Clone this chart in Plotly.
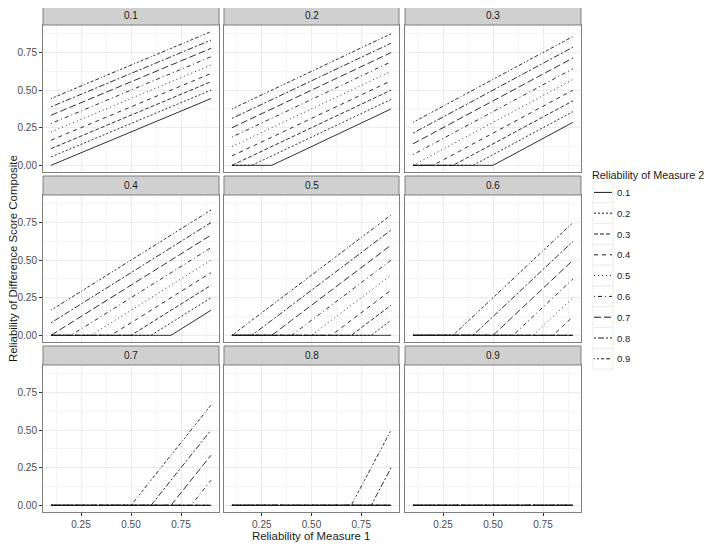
import plotly.graph_objects as go

# Reliability of Measure 1 (x) and Measure 2 (line type)
R1 = [0.1, 0.2, 0.3, 0.4, 0.5, 0.6, 0.7, 0.8, 0.9]
R2_LEVELS = ["0.1", "0.2", "0.3", "0.4", "0.5", "0.6", "0.7", "0.8", "0.9"]
FACETS = ["0.1", "0.2", "0.3", "0.4", "0.5", "0.6", "0.7", "0.8", "0.9"]

# composite reliability, one row per Measure 2 level, columns follow R1
REL_01 = [
    [0.000, 0.056, 0.111, 0.167, 0.222, 0.278, 0.333, 0.389, 0.444],
    [0.056, 0.111, 0.167, 0.222, 0.278, 0.333, 0.389, 0.444, 0.500],
    [0.111, 0.167, 0.222, 0.278, 0.333, 0.389, 0.444, 0.500, 0.556],
    [0.167, 0.222, 0.278, 0.333, 0.389, 0.444, 0.500, 0.556, 0.611],
    [0.222, 0.278, 0.333, 0.389, 0.444, 0.500, 0.556, 0.611, 0.667],
    [0.278, 0.333, 0.389, 0.444, 0.500, 0.556, 0.611, 0.667, 0.722],
    [0.333, 0.389, 0.444, 0.500, 0.556, 0.611, 0.667, 0.722, 0.778],
    [0.389, 0.444, 0.500, 0.556, 0.611, 0.667, 0.722, 0.778, 0.833],
    [0.444, 0.500, 0.556, 0.611, 0.667, 0.722, 0.778, 0.833, 0.889],
]
REL_02 = [
    [0.000, 0.000, 0.000, 0.062, 0.125, 0.188, 0.250, 0.312, 0.375],
    [0.000, 0.000, 0.062, 0.125, 0.188, 0.250, 0.312, 0.375, 0.438],
    [0.000, 0.062, 0.125, 0.188, 0.250, 0.312, 0.375, 0.438, 0.500],
    [0.062, 0.125, 0.188, 0.250, 0.312, 0.375, 0.438, 0.500, 0.562],
    [0.125, 0.188, 0.250, 0.312, 0.375, 0.438, 0.500, 0.562, 0.625],
    [0.188, 0.250, 0.312, 0.375, 0.438, 0.500, 0.562, 0.625, 0.688],
    [0.250, 0.312, 0.375, 0.438, 0.500, 0.562, 0.625, 0.688, 0.750],
    [0.312, 0.375, 0.438, 0.500, 0.562, 0.625, 0.688, 0.750, 0.812],
    [0.375, 0.438, 0.500, 0.562, 0.625, 0.688, 0.750, 0.812, 0.875],
]
REL_03 = [
    [0.000, 0.000, 0.000, 0.000, 0.000, 0.071, 0.143, 0.214, 0.286],
    [0.000, 0.000, 0.000, 0.000, 0.071, 0.143, 0.214, 0.286, 0.357],
    [0.000, 0.000, 0.000, 0.071, 0.143, 0.214, 0.286, 0.357, 0.429],
    [0.000, 0.000, 0.071, 0.143, 0.214, 0.286, 0.357, 0.429, 0.500],
    [0.000, 0.071, 0.143, 0.214, 0.286, 0.357, 0.429, 0.500, 0.571],
    [0.071, 0.143, 0.214, 0.286, 0.357, 0.429, 0.500, 0.571, 0.643],
    [0.143, 0.214, 0.286, 0.357, 0.429, 0.500, 0.571, 0.643, 0.714],
    [0.214, 0.286, 0.357, 0.429, 0.500, 0.571, 0.643, 0.714, 0.786],
    [0.286, 0.357, 0.429, 0.500, 0.571, 0.643, 0.714, 0.786, 0.857],
]
REL_04 = [
    [0.000, 0.000, 0.000, 0.000, 0.000, 0.000, 0.000, 0.083, 0.167],
    [0.000, 0.000, 0.000, 0.000, 0.000, 0.000, 0.083, 0.167, 0.250],
    [0.000, 0.000, 0.000, 0.000, 0.000, 0.083, 0.167, 0.250, 0.333],
    [0.000, 0.000, 0.000, 0.000, 0.083, 0.167, 0.250, 0.333, 0.417],
    [0.000, 0.000, 0.000, 0.083, 0.167, 0.250, 0.333, 0.417, 0.500],
    [0.000, 0.000, 0.083, 0.167, 0.250, 0.333, 0.417, 0.500, 0.583],
    [0.000, 0.083, 0.167, 0.250, 0.333, 0.417, 0.500, 0.583, 0.667],
    [0.083, 0.167, 0.250, 0.333, 0.417, 0.500, 0.583, 0.667, 0.750],
    [0.167, 0.250, 0.333, 0.417, 0.500, 0.583, 0.667, 0.750, 0.833],
]
REL_05 = [
    [0.0, 0.0, 0.0, 0.0, 0.0, 0.0, 0.0, 0.0, 0.0],
    [0.0, 0.0, 0.0, 0.0, 0.0, 0.0, 0.0, 0.0, 0.1],
    [0.0, 0.0, 0.0, 0.0, 0.0, 0.0, 0.0, 0.1, 0.2],
    [0.0, 0.0, 0.0, 0.0, 0.0, 0.0, 0.1, 0.2, 0.3],
    [0.0, 0.0, 0.0, 0.0, 0.0, 0.1, 0.2, 0.3, 0.4],
    [0.0, 0.0, 0.0, 0.0, 0.1, 0.2, 0.3, 0.4, 0.5],
    [0.0, 0.0, 0.0, 0.1, 0.2, 0.3, 0.4, 0.5, 0.6],
    [0.0, 0.0, 0.1, 0.2, 0.3, 0.4, 0.5, 0.6, 0.7],
    [0.0, 0.1, 0.2, 0.3, 0.4, 0.5, 0.6, 0.7, 0.8],
]
REL_06 = [
    [0.000, 0.000, 0.000, 0.000, 0.000, 0.000, 0.000, 0.000, 0.000],
    [0.000, 0.000, 0.000, 0.000, 0.000, 0.000, 0.000, 0.000, 0.000],
    [0.000, 0.000, 0.000, 0.000, 0.000, 0.000, 0.000, 0.000, 0.000],
    [0.000, 0.000, 0.000, 0.000, 0.000, 0.000, 0.000, 0.000, 0.125],
    [0.000, 0.000, 0.000, 0.000, 0.000, 0.000, 0.000, 0.125, 0.250],
    [0.000, 0.000, 0.000, 0.000, 0.000, 0.000, 0.125, 0.250, 0.375],
    [0.000, 0.000, 0.000, 0.000, 0.000, 0.125, 0.250, 0.375, 0.500],
    [0.000, 0.000, 0.000, 0.000, 0.125, 0.250, 0.375, 0.500, 0.625],
    [0.000, 0.000, 0.000, 0.125, 0.250, 0.375, 0.500, 0.625, 0.750],
]
REL_07 = [
    [0.000, 0.000, 0.000, 0.000, 0.000, 0.000, 0.000, 0.000, 0.000],
    [0.000, 0.000, 0.000, 0.000, 0.000, 0.000, 0.000, 0.000, 0.000],
    [0.000, 0.000, 0.000, 0.000, 0.000, 0.000, 0.000, 0.000, 0.000],
    [0.000, 0.000, 0.000, 0.000, 0.000, 0.000, 0.000, 0.000, 0.000],
    [0.000, 0.000, 0.000, 0.000, 0.000, 0.000, 0.000, 0.000, 0.000],
    [0.000, 0.000, 0.000, 0.000, 0.000, 0.000, 0.000, 0.000, 0.167],
    [0.000, 0.000, 0.000, 0.000, 0.000, 0.000, 0.000, 0.167, 0.333],
    [0.000, 0.000, 0.000, 0.000, 0.000, 0.000, 0.167, 0.333, 0.500],
    [0.000, 0.000, 0.000, 0.000, 0.000, 0.167, 0.333, 0.500, 0.667],
]
REL_08 = [
    [0.00, 0.00, 0.00, 0.00, 0.00, 0.00, 0.00, 0.00, 0.00],
    [0.00, 0.00, 0.00, 0.00, 0.00, 0.00, 0.00, 0.00, 0.00],
    [0.00, 0.00, 0.00, 0.00, 0.00, 0.00, 0.00, 0.00, 0.00],
    [0.00, 0.00, 0.00, 0.00, 0.00, 0.00, 0.00, 0.00, 0.00],
    [0.00, 0.00, 0.00, 0.00, 0.00, 0.00, 0.00, 0.00, 0.00],
    [0.00, 0.00, 0.00, 0.00, 0.00, 0.00, 0.00, 0.00, 0.00],
    [0.00, 0.00, 0.00, 0.00, 0.00, 0.00, 0.00, 0.00, 0.00],
    [0.00, 0.00, 0.00, 0.00, 0.00, 0.00, 0.00, 0.00, 0.25],
    [0.00, 0.00, 0.00, 0.00, 0.00, 0.00, 0.00, 0.25, 0.50],
]
REL_09 = [
    [0.0, 0.0, 0.0, 0.0, 0.0, 0.0, 0.0, 0.0, 0.0],
    [0.0, 0.0, 0.0, 0.0, 0.0, 0.0, 0.0, 0.0, 0.0],
    [0.0, 0.0, 0.0, 0.0, 0.0, 0.0, 0.0, 0.0, 0.0],
    [0.0, 0.0, 0.0, 0.0, 0.0, 0.0, 0.0, 0.0, 0.0],
    [0.0, 0.0, 0.0, 0.0, 0.0, 0.0, 0.0, 0.0, 0.0],
    [0.0, 0.0, 0.0, 0.0, 0.0, 0.0, 0.0, 0.0, 0.0],
    [0.0, 0.0, 0.0, 0.0, 0.0, 0.0, 0.0, 0.0, 0.0],
    [0.0, 0.0, 0.0, 0.0, 0.0, 0.0, 0.0, 0.0, 0.0],
    [0.0, 0.0, 0.0, 0.0, 0.0, 0.0, 0.0, 0.0, 0.0],
]
TABLES = [REL_01, REL_02, REL_03, REL_04, REL_05, REL_06, REL_07, REL_08, REL_09]

# ggplot's default linetype palette
DASHES = [
    "solid",
    "2px,2px",
    "4px,2px",
    "4px,4px",
    "1px,3px",
    "1px,3px,4px,3px",
    "7px,3px",
    "2px,2px,6px,2px",
    "1px,2px,2px,2px,3px,2px,4px,2px",
]

# the page body adds an 8px margin, so the figure is sized to the visible window
# and all layout positions below are given in window pixels
OFF = 8
W, H = 714 - OFF, 547 - OFF
FONT = "Liberation Sans, Arial, sans-serif"
BORDER = "#7f7f7f"
COL_X = [(43, 219), (224, 399), (405, 581)]
ROW_BOTTOM = [172, 342, 512]
PANEL_H = 147
STRIP_H = 19


def px(x):
    return (x - OFF) / W


def py(y):
    return 1 - (y - OFF) / H


fig = go.Figure()
shapes = []
annotations = []
layout_axes = {}

for idx, (facet, table) in enumerate(zip(FACETS, TABLES)):
    row, col = divmod(idx, 3)
    n = idx + 1
    suffix = "" if n == 1 else str(n)
    x0, x1 = COL_X[col]
    bottom = ROW_BOTTOM[row]
    top = bottom - PANEL_H

    for level, dash, vals in zip(R2_LEVELS, DASHES, table):
        fig.add_trace(
            go.Scatter(
                x=R1,
                y=vals,
                mode="lines",
                line=dict(color="#1a1a1a", width=0.9, dash=dash),
                xaxis="x" + suffix,
                yaxis="y" + suffix,
                showlegend=False,
                name=level,
            )
        )

    show_x = row == 2
    show_y = col == 0
    layout_axes["xaxis" + suffix] = dict(
        domain=[px(x0), px(x1)],
        anchor="y" + suffix,
        range=[0.06, 0.94],
        tickvals=[0.25, 0.5, 0.75],
        ticktext=["0.25", "0.50", "0.75"],
        showticklabels=show_x,
        ticks="outside" if show_x else "",
        ticklen=3,
        tickcolor="#333333",
        tickfont=dict(size=10, color="#4d4d4d", family=FONT),
        showgrid=True,
        gridcolor="#ebebeb",
        gridwidth=1,
        minor=dict(tickvals=[0.125, 0.375, 0.625, 0.875], showgrid=True,
                   gridcolor="#f4f4f4", gridwidth=0.6),
        zeroline=False,
        showline=True,
        mirror=True,
        linecolor=BORDER,
        linewidth=1,
    )
    layout_axes["yaxis" + suffix] = dict(
        domain=[py(bottom), py(top)],
        anchor="x" + suffix,
        range=[-0.0444, 0.9333],
        tickvals=[0, 0.25, 0.5, 0.75],
        ticktext=["0.00", "0.25", "0.50", "0.75"],
        showticklabels=show_y,
        ticks="outside" if show_y else "",
        ticklen=3,
        tickcolor="#333333",
        tickfont=dict(size=10, color="#4d4d4d", family=FONT),
        showgrid=True,
        gridcolor="#ebebeb",
        gridwidth=1,
        minor=dict(tickvals=[0.125, 0.375, 0.625, 0.875], showgrid=True,
                   gridcolor="#f4f4f4", gridwidth=0.6),
        zeroline=False,
        showline=True,
        mirror=True,
        linecolor=BORDER,
        linewidth=1,
    )

    # facet strip
    shapes.append(dict(
        type="rect", xref="paper", yref="paper",
        x0=px(x0), x1=px(x1),
        y0=py(top), y1=py(top - STRIP_H),
        fillcolor="#d0d0d0", line=dict(color=BORDER, width=1),
    ))
    annotations.append(dict(
        text=facet, xref="paper", yref="paper",
        x=px((x0 + x1) / 2), y=py(top - STRIP_H / 2),
        showarrow=False, xanchor="center", yanchor="middle",
        font=dict(size=10, color="#1a1a1a", family=FONT),
    ))

# legend, drawn by hand to mimic the ggplot key boxes
LEG_X0, LEG_X1 = 593, 613
LEG_TOP = 182
LEG_STEP = 20.8
annotations.append(dict(
    text="Reliability of Measure 2", xref="paper", yref="paper",
    x=px(590), y=py(175), showarrow=False,
    xanchor="left", yanchor="middle",
    font=dict(size=10.8, color="#1a1a1a", family=FONT),
))
for i, (level, dash) in enumerate(zip(R2_LEVELS, DASHES)):
    ky0 = LEG_TOP + i * LEG_STEP
    kc = ky0 + LEG_STEP / 2
    shapes.append(dict(
        type="rect", xref="paper", yref="paper",
        x0=px(LEG_X0), x1=px(LEG_X1),
        y0=py(ky0 + LEG_STEP), y1=py(ky0),
        fillcolor="white", line=dict(color="#ececec", width=1),
    ))
    shapes.append(dict(
        type="line", xref="paper", yref="paper",
        x0=px(LEG_X0 + 1), x1=px(LEG_X1 - 1),
        y0=py(kc), y1=py(kc),
        line=dict(color="#1a1a1a", width=1, dash=dash),
    ))
    annotations.append(dict(
        text=level, xref="paper", yref="paper",
        x=px(615), y=py(kc), showarrow=False,
        xanchor="left", yanchor="middle",
        font=dict(size=9.5, color="#1a1a1a", family=FONT),
    ))

# axis titles
annotations.append(dict(
    text="Reliability of Measure 1", xref="paper", yref="paper",
    x=px(311), y=py(536), showarrow=False,
    xanchor="center", yanchor="middle",
    font=dict(size=11.4, color="#1a1a1a", family=FONT),
))
annotations.append(dict(
    text="Reliability of Difference Score Composite", xref="paper", yref="paper",
    x=px(13), y=py(259), showarrow=False, textangle=-90,
    xanchor="center", yanchor="middle",
    font=dict(size=11.4, color="#1a1a1a", family=FONT),
))

fig.update_layout(
    width=W,
    height=H,
    margin=dict(l=0, r=0, t=0, b=0),
    paper_bgcolor="white",
    plot_bgcolor="white",
    font=dict(family=FONT),
    shapes=shapes,
    annotations=annotations,
    showlegend=False,
    **layout_axes,
)

fig.write_html("out.html")
